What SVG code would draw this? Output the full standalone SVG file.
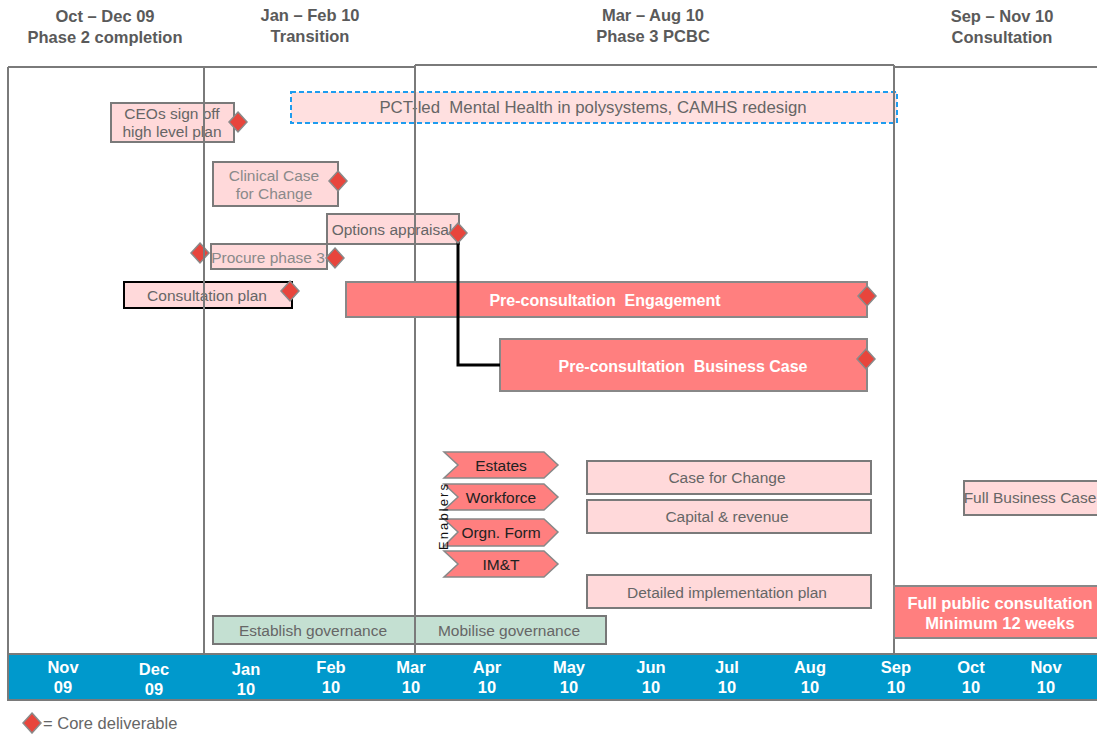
<svg xmlns="http://www.w3.org/2000/svg" width="1097" height="734" viewBox="0 0 1097 734">
  <style>
    text { font-family: "Liberation Sans", Arial, sans-serif; white-space: pre; }
    .hdr { font-size: 16.5px; font-weight: bold; fill: #5a5a5a; text-anchor: middle; }
    .mon { font-size: 16.5px; font-weight: bold; fill: #ffffff; text-anchor: middle; }
    .lbl { font-size: 15.5px; fill: #666666; text-anchor: middle; }
    .lbl-lt { font-size: 15.5px; fill: #8a8a8a; text-anchor: middle; }
    .lbl-dk { font-size: 15.5px; fill: #222222; text-anchor: middle; }
    .lbl-wh { font-size: 16px; font-weight: bold; fill: #ffffff; text-anchor: middle; }
    .pink { fill: #ffd9da; stroke: #7a7a7a; stroke-width: 2; }
    .red { fill: #ff7f7f; stroke: #888888; stroke-width: 2; }
    .green { fill: #c4e0d2; stroke: #777777; stroke-width: 2; }
    .chev { fill: #ff7f7f; stroke: #888888; stroke-width: 1.5; }
    .frame { fill: none; stroke: #7a7a7a; stroke-width: 2; }
    .conn { fill: none; stroke: #000000; stroke-width: 3; }
  </style>
  <defs>
    <path id="dia" d="M0,-10 L9,0 L0,10 L-9,0 Z" fill="#e8453c" stroke="#8a8a8a" stroke-width="1.5"/>
  </defs>

  <rect width="1097" height="734" fill="#ffffff"/>

  <!-- phase headings -->
  <g id="headings">
    <text class="hdr" x="105" y="22">Oct – Dec 09</text>
    <text class="hdr" x="105" y="43">Phase 2 completion</text>
    <text class="hdr" x="310" y="21">Jan – Feb 10</text>
    <text class="hdr" x="310" y="42">Transition</text>
    <text class="hdr" x="653" y="21">Mar – Aug 10</text>
    <text class="hdr" x="653" y="42">Phase 3 PCBC</text>
    <text class="hdr" x="1002" y="22">Sep – Nov 10</text>
    <text class="hdr" x="1002" y="43">Consultation</text>
  </g>

  <!-- tasks lying under the phase frame lines -->
  <g id="ceos-signoff">
    <rect class="pink" x="111" y="103" width="123" height="39"/>
    <text class="lbl" x="172" y="119">CEOs sign off</text>
    <text class="lbl" x="172" y="137">high level plan</text>
    <use href="#dia" x="238" y="122"/>
  </g>
  <g id="pct-led">
    <rect x="291" y="92" width="606" height="31" fill="#ffe0e0" stroke="#1e9cef" stroke-width="2" stroke-dasharray="5,3"/>
    <text class="lbl" x="593" y="113" style="font-size:16.8px">PCT-led  Mental Health in polysystems, CAMHS redesign</text>
  </g>
  <g id="clinical-case">
    <rect class="pink" x="213" y="162" width="125" height="44"/>
    <text class="lbl-lt" x="274" y="181">Clinical Case</text>
    <text class="lbl-lt" x="274" y="199">for Change</text>
    <use href="#dia" x="338" y="181"/>
  </g>
  <g id="options-appraisal">
    <rect class="pink" x="327" y="214" width="132" height="30"/>
    <text class="lbl" x="392" y="235">Options appraisal</text>
  </g>
  <g id="procure-phase3">
    <rect class="pink" x="211" y="244" width="116" height="25"/>
    <text class="lbl-lt" x="268" y="263">Procure phase 3</text>
    <use href="#dia" x="200" y="253"/>
    <use href="#dia" x="335" y="258"/>
  </g>
  <g id="consultation-plan">
    <rect x="124" y="282" width="168" height="26" fill="#ffd9da" stroke="#000000" stroke-width="2"/>
    <text class="lbl" x="207" y="301">Consultation plan</text>
    <use href="#dia" x="290" y="291"/>
  </g>
  <g id="enablers">
    <polygon class="chev" points="444,452 544,452 558,465 544,478 444,478 458,465"/>
    <text class="lbl-dk" x="501" y="471">Estates</text>
    <polygon class="chev" points="444,484 544,484 558,497 544,510 444,510 458,497"/>
    <text class="lbl-dk" x="501" y="503">Workforce</text>
    <polygon class="chev" points="444,519 544,519 558,532 544,546 444,546 458,532"/>
    <text class="lbl-dk" x="501" y="538">Orgn. Form</text>
    <polygon class="chev" points="444,551 544,551 558,564 544,577 444,577 458,564"/>
    <text class="lbl-dk" x="501" y="570">IM&amp;T</text>
    <text x="0" y="0" transform="translate(448,550) rotate(-90)" style="font-size:13px;fill:#111" textLength="66" lengthAdjust="spacing">Enablers</text>
  </g>
  <g id="case-for-change">
    <rect class="pink" x="587" y="461" width="284" height="33"/>
    <text class="lbl" x="727" y="483">Case for Change</text>
  </g>
  <g id="capital-revenue">
    <rect class="pink" x="587" y="500" width="284" height="33"/>
    <text class="lbl" x="727" y="522">Capital &amp; revenue</text>
  </g>
  <g id="implementation-plan">
    <rect class="pink" x="587" y="575" width="284" height="33"/>
    <text class="lbl" x="727" y="598">Detailed implementation plan</text>
  </g>
  <g id="full-business-case">
    <rect class="pink" x="964" y="481" width="140" height="34"/>
    <text class="lbl" x="1030" y="503">Full Business Case</text>
  </g>
  <g id="establish-governance">
    <rect class="green" x="213" y="616" width="202" height="28"/>
    <text class="lbl" x="313" y="636">Establish governance</text>
  </g>
  <g id="mobilise-governance">
    <rect class="green" x="415" y="616" width="191" height="28"/>
    <text class="lbl" x="509" y="636">Mobilise governance</text>
  </g>

  <!-- phase frames -->
  <g id="phase-frames">
    <path class="frame" d="M8,67 H204 M894,67 H1097"/>
    <path class="frame" d="M204,67 H415" stroke="#666666"/>
    <path class="frame" d="M415,65 H894" stroke="#8a8a8a"/>
    <path class="frame" d="M8,67 V654 M204,67 V654 M415,65 V654 M894,65 V654"/>
  </g>

  <!-- tasks drawn above the frames -->
  <g id="preconsultation-engagement">
    <rect class="red" x="346" y="282" width="521" height="35"/>
    <text class="lbl-wh" x="605" y="306">Pre-consultation  Engagement</text>
    <use href="#dia" x="867" y="296"/>
  </g>
  <g id="preconsultation-business-case">
    <rect class="red" x="500" y="339" width="367" height="52"/>
    <text class="lbl-wh" x="683" y="372">Pre-consultation  Business Case</text>
    <use href="#dia" x="866" y="359"/>
  </g>
  <g id="full-public-consultation">
    <rect class="red" x="894" y="586" width="210" height="52"/>
    <text class="lbl-wh" x="1000" y="609" style="font-size:16.5px">Full public consultation</text>
    <text class="lbl-wh" x="1000" y="629" style="font-size:16.5px">Minimum 12 weeks</text>
  </g>

  <!-- connectors -->
  <g id="connectors">
    <polyline class="conn" points="458,238 458,365 500,365"/>
  </g>
  <g id="options-deliverable">
    <use href="#dia" x="458" y="233"/>
  </g>

  <!-- month axis -->
  <g id="timeline">
    <rect x="8" y="654" width="1095" height="46" fill="#0099cc" stroke="#7a7a7a" stroke-width="2"/>
    <text class="mon" x="63" y="673">Nov</text><text class="mon" x="63" y="693">09</text>
    <text class="mon" x="154" y="675">Dec</text><text class="mon" x="154" y="695">09</text>
    <text class="mon" x="246" y="675">Jan</text><text class="mon" x="246" y="695">10</text>
    <text class="mon" x="331" y="673">Feb</text><text class="mon" x="331" y="693">10</text>
    <text class="mon" x="411" y="673">Mar</text><text class="mon" x="411" y="693">10</text>
    <text class="mon" x="487" y="673">Apr</text><text class="mon" x="487" y="693">10</text>
    <text class="mon" x="569" y="673">May</text><text class="mon" x="569" y="693">10</text>
    <text class="mon" x="651" y="673">Jun</text><text class="mon" x="651" y="693">10</text>
    <text class="mon" x="727" y="673">Jul</text><text class="mon" x="727" y="693">10</text>
    <text class="mon" x="810" y="673">Aug</text><text class="mon" x="810" y="693">10</text>
    <text class="mon" x="896" y="673">Sep</text><text class="mon" x="896" y="693">10</text>
    <text class="mon" x="971" y="673">Oct</text><text class="mon" x="971" y="693">10</text>
    <text class="mon" x="1046" y="673">Nov</text><text class="mon" x="1046" y="693">10</text>
  </g>

  <!-- legend -->
  <g id="legend">
    <use href="#dia" x="32" y="723"/>
    <text x="43" y="729" style="font-size:16.5px;fill:#666666">= Core deliverable</text>
  </g>
</svg>
